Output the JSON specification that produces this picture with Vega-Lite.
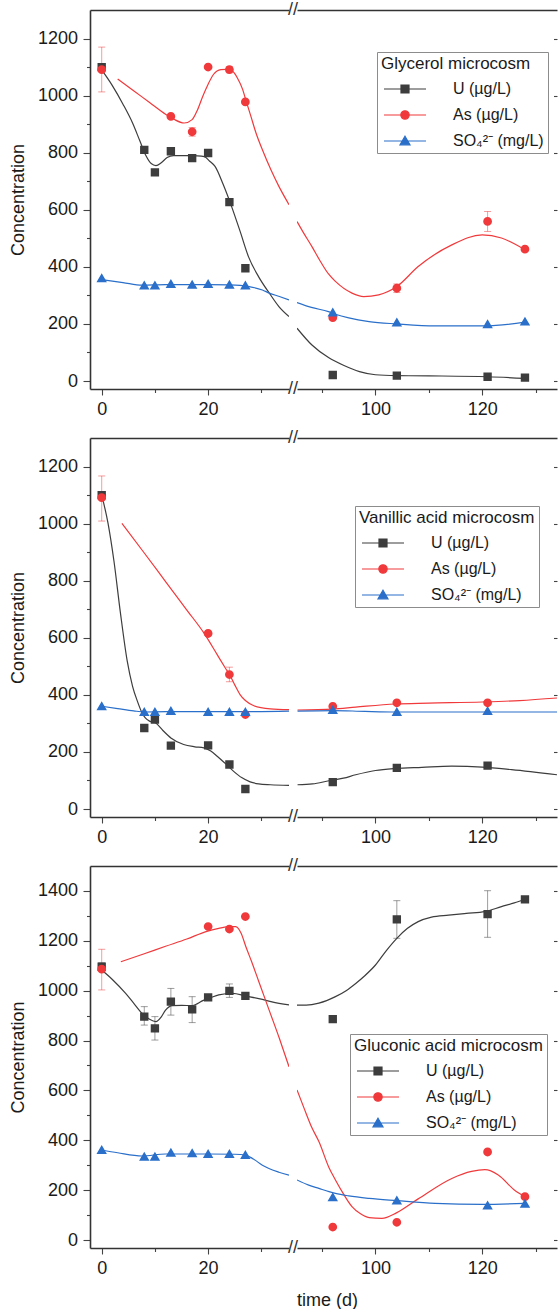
{
  "$schema": "https://vega.github.io/schema/vega-lite/v6.json",
  "background": "white",
  "padding": {"left": 9, "top": 1, "right": 0, "bottom": 0},
  "columns": 2,
  "spacing": {"row": 49, "column": 8},
  "bounds": "flush",
  "resolve": {"scale": {"color": "independent", "shape": "independent", "stroke": "independent"}},
  "config": {
    "font": "Liberation Sans",
    "view": {"stroke": null},
    "axis": {
      "grid": false,
      "labelFont": "Liberation Sans",
      "labelFontSize": 18,
      "labelColor": "#1a1a1a",
      "labelPadding": 5,
      "titleFont": "Liberation Sans",
      "titleFontSize": 18,
      "titleFontWeight": "normal",
      "titleColor": "#1a1a1a",
      "domainColor": "#333333",
      "domainWidth": 1.6,
      "tickColor": "#444444",
      "tickWidth": 1.1,
      "format": "d"
    },
    "legend": {
      "labelFont": "Liberation Sans",
      "titleFont": "Liberation Sans",
      "titleLimit": 400,
      "labelLimit": 300,
      "strokeColor": "#8c8c8c",
      "fillColor": "#ffffff",
      "padding": 4,
      "titleFontSize": 17,
      "titleFontWeight": "normal",
      "titleColor": "#1a1a1a",
      "titlePadding": 8,
      "labelFontSize": 16,
      "labelColor": "#1a1a1a",
      "rowPadding": 10,
      "symbolSize": 64,
      "symbolOffset": 16,
      "labelOffset": 40,
      "symbolOpacity": 1,
      "symbolStrokeWidth": 1.2
    }
  },
  "datasets": {
    "glyPts": [
      {"series": "U", "t": 0, "value": 1100}, {"series": "U", "t": 8, "value": 810}, {"series": "U", "t": 10, "value": 731},
      {"series": "U", "t": 13, "value": 805}, {"series": "U", "t": 17, "value": 781}, {"series": "U", "t": 20, "value": 799},
      {"series": "U", "t": 24, "value": 627}, {"series": "U", "t": 27, "value": 395}, {"series": "U", "t": 92, "value": 21},
      {"series": "U", "t": 104, "value": 19}, {"series": "U", "t": 121, "value": 15}, {"series": "U", "t": 128, "value": 12},
      {"series": "As", "t": 0, "value": 1091, "lo": 1013, "hi": 1170}, {"series": "As", "t": 13, "value": 927},
      {"series": "As", "t": 17, "value": 873, "lo": 858, "hi": 888}, {"series": "As", "t": 20, "value": 1100},
      {"series": "As", "t": 24, "value": 1091, "lo": 1080, "hi": 1102}, {"series": "As", "t": 27, "value": 978},
      {"series": "As", "t": 92, "value": 222}, {"series": "As", "t": 104, "value": 325, "lo": 310, "hi": 340},
      {"series": "As", "t": 121, "value": 559, "lo": 524, "hi": 594}, {"series": "As", "t": 128, "value": 462},
      {"series": "SO4", "t": 0, "value": 360}, {"series": "SO4", "t": 8, "value": 335}, {"series": "SO4", "t": 10, "value": 335},
      {"series": "SO4", "t": 13, "value": 340}, {"series": "SO4", "t": 17, "value": 337}, {"series": "SO4", "t": 20, "value": 340},
      {"series": "SO4", "t": 24, "value": 337}, {"series": "SO4", "t": 27, "value": 335}, {"series": "SO4", "t": 92, "value": 240},
      {"series": "SO4", "t": 104, "value": 205}, {"series": "SO4", "t": 121, "value": 199}, {"series": "SO4", "t": 128, "value": 208}
    ],
    "glyFit": [
      {"seg": "L", "series": "U", "t": 0, "value": 1090}, {"seg": "L", "series": "U", "t": 2, "value": 1035},
      {"seg": "L", "series": "U", "t": 4, "value": 970}, {"seg": "L", "series": "U", "t": 5.8, "value": 904},
      {"seg": "L", "series": "U", "t": 7.2, "value": 840}, {"seg": "L", "series": "U", "t": 8.3, "value": 790},
      {"seg": "L", "series": "U", "t": 9.3, "value": 762}, {"seg": "L", "series": "U", "t": 10.2, "value": 755},
      {"seg": "L", "series": "U", "t": 11.2, "value": 765}, {"seg": "L", "series": "U", "t": 12.3, "value": 783},
      {"seg": "L", "series": "U", "t": 13.5, "value": 790}, {"seg": "L", "series": "U", "t": 16, "value": 790},
      {"seg": "L", "series": "U", "t": 18, "value": 789}, {"seg": "L", "series": "U", "t": 19.3, "value": 786},
      {"seg": "L", "series": "U", "t": 20.3, "value": 770}, {"seg": "L", "series": "U", "t": 21.3, "value": 752},
      {"seg": "L", "series": "U", "t": 22.8, "value": 690}, {"seg": "L", "series": "U", "t": 24.4, "value": 612},
      {"seg": "L", "series": "U", "t": 26, "value": 525}, {"seg": "L", "series": "U", "t": 27.6, "value": 435},
      {"seg": "L", "series": "U", "t": 29.5, "value": 365}, {"seg": "L", "series": "U", "t": 31.5, "value": 308},
      {"seg": "L", "series": "U", "t": 33.3, "value": 261}, {"seg": "L", "series": "U", "t": 35.2, "value": 226},
      {"seg": "R", "series": "U", "t": 85.3, "value": 185}, {"seg": "R", "series": "U", "t": 88.1, "value": 126},
      {"seg": "R", "series": "U", "t": 91.2, "value": 82}, {"seg": "R", "series": "U", "t": 94, "value": 55},
      {"seg": "R", "series": "U", "t": 97, "value": 33}, {"seg": "R", "series": "U", "t": 100, "value": 22},
      {"seg": "R", "series": "U", "t": 104, "value": 19}, {"seg": "R", "series": "U", "t": 110, "value": 18},
      {"seg": "R", "series": "U", "t": 121, "value": 15}, {"seg": "R", "series": "U", "t": 128, "value": 9},
      {"seg": "L", "series": "As", "t": 3, "value": 1058}, {"seg": "L", "series": "As", "t": 6, "value": 1017},
      {"seg": "L", "series": "As", "t": 9, "value": 976}, {"seg": "L", "series": "As", "t": 12, "value": 935},
      {"seg": "L", "series": "As", "t": 13.5, "value": 918}, {"seg": "L", "series": "As", "t": 15.5, "value": 904},
      {"seg": "L", "series": "As", "t": 17, "value": 916}, {"seg": "L", "series": "As", "t": 18, "value": 950},
      {"seg": "L", "series": "As", "t": 19, "value": 998}, {"seg": "L", "series": "As", "t": 20, "value": 1040},
      {"seg": "L", "series": "As", "t": 21, "value": 1074}, {"seg": "L", "series": "As", "t": 22.4, "value": 1091},
      {"seg": "L", "series": "As", "t": 23.5, "value": 1092}, {"seg": "L", "series": "As", "t": 24.6, "value": 1085},
      {"seg": "L", "series": "As", "t": 25.5, "value": 1062}, {"seg": "L", "series": "As", "t": 26.5, "value": 1021},
      {"seg": "L", "series": "As", "t": 27, "value": 990}, {"seg": "L", "series": "As", "t": 28, "value": 930},
      {"seg": "L", "series": "As", "t": 29, "value": 869}, {"seg": "L", "series": "As", "t": 30.2, "value": 810},
      {"seg": "L", "series": "As", "t": 31.8, "value": 740}, {"seg": "L", "series": "As", "t": 33.3, "value": 682},
      {"seg": "L", "series": "As", "t": 35.2, "value": 618},
      {"seg": "R", "series": "As", "t": 85.3, "value": 559}, {"seg": "R", "series": "As", "t": 86.5, "value": 520},
      {"seg": "R", "series": "As", "t": 88.1, "value": 471}, {"seg": "R", "series": "As", "t": 89.5, "value": 425},
      {"seg": "R", "series": "As", "t": 91.2, "value": 375}, {"seg": "R", "series": "As", "t": 92.5, "value": 349},
      {"seg": "R", "series": "As", "t": 95.6, "value": 308}, {"seg": "R", "series": "As", "t": 97.8, "value": 296},
      {"seg": "R", "series": "As", "t": 100.6, "value": 302}, {"seg": "R", "series": "As", "t": 104, "value": 331},
      {"seg": "R", "series": "As", "t": 108, "value": 401}, {"seg": "R", "series": "As", "t": 114.3, "value": 477},
      {"seg": "R", "series": "As", "t": 120, "value": 512}, {"seg": "R", "series": "As", "t": 123.6, "value": 501},
      {"seg": "R", "series": "As", "t": 128, "value": 460},
      {"seg": "L", "series": "SO4", "t": 0, "value": 355}, {"seg": "L", "series": "SO4", "t": 4, "value": 345},
      {"seg": "L", "series": "SO4", "t": 7.6, "value": 336}, {"seg": "L", "series": "SO4", "t": 12, "value": 338},
      {"seg": "L", "series": "SO4", "t": 20, "value": 338}, {"seg": "L", "series": "SO4", "t": 24, "value": 337},
      {"seg": "L", "series": "SO4", "t": 26, "value": 335}, {"seg": "L", "series": "SO4", "t": 27.7, "value": 331},
      {"seg": "L", "series": "SO4", "t": 30.2, "value": 319}, {"seg": "L", "series": "SO4", "t": 31.5, "value": 308},
      {"seg": "L", "series": "SO4", "t": 33.4, "value": 296}, {"seg": "L", "series": "SO4", "t": 35.2, "value": 284},
      {"seg": "R", "series": "SO4", "t": 85.3, "value": 275}, {"seg": "R", "series": "SO4", "t": 88, "value": 258},
      {"seg": "R", "series": "SO4", "t": 91.2, "value": 243}, {"seg": "R", "series": "SO4", "t": 92.5, "value": 234},
      {"seg": "R", "series": "SO4", "t": 95, "value": 221}, {"seg": "R", "series": "SO4", "t": 98.8, "value": 208},
      {"seg": "R", "series": "SO4", "t": 104, "value": 200}, {"seg": "R", "series": "SO4", "t": 111.2, "value": 193},
      {"seg": "R", "series": "SO4", "t": 120.5, "value": 193}, {"seg": "R", "series": "SO4", "t": 128, "value": 206}
    ],
    "vanPts": [
      {"series": "U", "t": 0, "value": 1100}, {"series": "U", "t": 8, "value": 284}, {"series": "U", "t": 10, "value": 313},
      {"series": "U", "t": 13, "value": 222}, {"series": "U", "t": 20, "value": 223}, {"series": "U", "t": 24, "value": 156},
      {"series": "U", "t": 27, "value": 70}, {"series": "U", "t": 92, "value": 94}, {"series": "U", "t": 104, "value": 144},
      {"series": "U", "t": 121, "value": 152},
      {"series": "As", "t": 0, "value": 1091, "lo": 1009, "hi": 1167}, {"series": "As", "t": 20, "value": 615},
      {"series": "As", "t": 24, "value": 471, "lo": 446, "hi": 497}, {"series": "As", "t": 27, "value": 331},
      {"series": "As", "t": 92, "value": 360}, {"series": "As", "t": 104, "value": 372}, {"series": "As", "t": 121, "value": 372},
      {"series": "SO4", "t": 0, "value": 360}, {"series": "SO4", "t": 8, "value": 340}, {"series": "SO4", "t": 10, "value": 340},
      {"series": "SO4", "t": 13, "value": 343}, {"series": "SO4", "t": 20, "value": 340}, {"series": "SO4", "t": 24, "value": 340},
      {"series": "SO4", "t": 27, "value": 340}, {"series": "SO4", "t": 92, "value": 347}, {"series": "SO4", "t": 104, "value": 340},
      {"series": "SO4", "t": 121, "value": 343}
    ],
    "vanFit": [
      {"seg": "L", "series": "U", "t": 0, "value": 1100}, {"seg": "L", "series": "U", "t": 1.2, "value": 1000},
      {"seg": "L", "series": "U", "t": 2.3, "value": 869}, {"seg": "L", "series": "U", "t": 3.5, "value": 690},
      {"seg": "L", "series": "U", "t": 4.8, "value": 518}, {"seg": "L", "series": "U", "t": 5.8, "value": 430},
      {"seg": "L", "series": "U", "t": 6.7, "value": 378}, {"seg": "L", "series": "U", "t": 7.5, "value": 340},
      {"seg": "L", "series": "U", "t": 8.2, "value": 319}, {"seg": "L", "series": "U", "t": 9, "value": 308},
      {"seg": "L", "series": "U", "t": 10.1, "value": 302}, {"seg": "L", "series": "U", "t": 11.5, "value": 275},
      {"seg": "L", "series": "U", "t": 13, "value": 249}, {"seg": "L", "series": "U", "t": 15.4, "value": 226},
      {"seg": "L", "series": "U", "t": 17.5, "value": 218}, {"seg": "L", "series": "U", "t": 19.2, "value": 214},
      {"seg": "L", "series": "U", "t": 20.5, "value": 203}, {"seg": "L", "series": "U", "t": 21.7, "value": 185},
      {"seg": "L", "series": "U", "t": 23.2, "value": 160}, {"seg": "L", "series": "U", "t": 24.8, "value": 132},
      {"seg": "L", "series": "U", "t": 26.3, "value": 110}, {"seg": "L", "series": "U", "t": 27.9, "value": 95},
      {"seg": "L", "series": "U", "t": 29.5, "value": 88}, {"seg": "L", "series": "U", "t": 31.7, "value": 85},
      {"seg": "L", "series": "U", "t": 35.2, "value": 83},
      {"seg": "R", "series": "U", "t": 85.4, "value": 85}, {"seg": "R", "series": "U", "t": 88.2, "value": 88},
      {"seg": "R", "series": "U", "t": 91.3, "value": 99}, {"seg": "R", "series": "U", "t": 94, "value": 108},
      {"seg": "R", "series": "U", "t": 96.3, "value": 120}, {"seg": "R", "series": "U", "t": 100, "value": 135},
      {"seg": "R", "series": "U", "t": 103.7, "value": 142}, {"seg": "R", "series": "U", "t": 108.7, "value": 146},
      {"seg": "R", "series": "U", "t": 114.3, "value": 150}, {"seg": "R", "series": "U", "t": 120, "value": 147},
      {"seg": "R", "series": "U", "t": 125.5, "value": 138}, {"seg": "R", "series": "U", "t": 134, "value": 120},
      {"seg": "L", "series": "As", "t": 3.8, "value": 1001}, {"seg": "L", "series": "As", "t": 8, "value": 897},
      {"seg": "L", "series": "As", "t": 12, "value": 797}, {"seg": "L", "series": "As", "t": 16, "value": 697},
      {"seg": "L", "series": "As", "t": 19.2, "value": 617}, {"seg": "L", "series": "As", "t": 21.7, "value": 541},
      {"seg": "L", "series": "As", "t": 23.2, "value": 495}, {"seg": "L", "series": "As", "t": 24.2, "value": 465},
      {"seg": "L", "series": "As", "t": 25, "value": 435}, {"seg": "L", "series": "As", "t": 26, "value": 401},
      {"seg": "L", "series": "As", "t": 27, "value": 380}, {"seg": "L", "series": "As", "t": 28.6, "value": 362},
      {"seg": "L", "series": "As", "t": 31.7, "value": 351}, {"seg": "L", "series": "As", "t": 35.2, "value": 348},
      {"seg": "R", "series": "As", "t": 85.4, "value": 347}, {"seg": "R", "series": "As", "t": 92, "value": 350},
      {"seg": "R", "series": "As", "t": 96.3, "value": 357}, {"seg": "R", "series": "As", "t": 103.7, "value": 368},
      {"seg": "R", "series": "As", "t": 110, "value": 371}, {"seg": "R", "series": "As", "t": 120, "value": 375},
      {"seg": "R", "series": "As", "t": 127, "value": 380}, {"seg": "R", "series": "As", "t": 134, "value": 389},
      {"seg": "L", "series": "SO4", "t": 0, "value": 360}, {"seg": "L", "series": "SO4", "t": 3, "value": 352},
      {"seg": "L", "series": "SO4", "t": 6, "value": 344}, {"seg": "L", "series": "SO4", "t": 8, "value": 340},
      {"seg": "L", "series": "SO4", "t": 12, "value": 341}, {"seg": "L", "series": "SO4", "t": 20, "value": 341},
      {"seg": "L", "series": "SO4", "t": 27, "value": 341}, {"seg": "L", "series": "SO4", "t": 35.2, "value": 343},
      {"seg": "R", "series": "SO4", "t": 85.4, "value": 343}, {"seg": "R", "series": "SO4", "t": 92, "value": 345},
      {"seg": "R", "series": "SO4", "t": 98, "value": 342}, {"seg": "R", "series": "SO4", "t": 104, "value": 340},
      {"seg": "R", "series": "SO4", "t": 121, "value": 340}, {"seg": "R", "series": "SO4", "t": 134, "value": 340}
    ],
    "gluPts": [
      {"series": "U", "t": 0, "value": 1096, "lo": 1080, "hi": 1112}, {"series": "U", "t": 8, "value": 896, "lo": 862, "hi": 936},
      {"series": "U", "t": 10, "value": 849, "lo": 802, "hi": 896}, {"series": "U", "t": 13, "value": 956, "lo": 902, "hi": 1009},
      {"series": "U", "t": 17, "value": 925, "lo": 872, "hi": 976}, {"series": "U", "t": 20, "value": 973},
      {"series": "U", "t": 24, "value": 999, "lo": 973, "hi": 1027}, {"series": "U", "t": 27, "value": 979},
      {"series": "U", "t": 92, "value": 886}, {"series": "U", "t": 104, "value": 1286, "lo": 1210, "hi": 1361},
      {"series": "U", "t": 121, "value": 1307, "lo": 1214, "hi": 1401}, {"series": "U", "t": 128, "value": 1366},
      {"series": "As", "t": 0, "value": 1086, "lo": 1003, "hi": 1166}, {"series": "As", "t": 20, "value": 1257},
      {"series": "As", "t": 24, "value": 1247}, {"series": "As", "t": 27, "value": 1297},
      {"series": "As", "t": 92, "value": 52}, {"series": "As", "t": 104, "value": 71},
      {"series": "As", "t": 121, "value": 353}, {"series": "As", "t": 128, "value": 174},
      {"series": "SO4", "t": 0, "value": 361}, {"series": "SO4", "t": 8, "value": 334}, {"series": "SO4", "t": 10, "value": 334},
      {"series": "SO4", "t": 13, "value": 350}, {"series": "SO4", "t": 17, "value": 348}, {"series": "SO4", "t": 20, "value": 345},
      {"series": "SO4", "t": 24, "value": 345}, {"series": "SO4", "t": 27, "value": 341}, {"series": "SO4", "t": 92, "value": 171},
      {"series": "SO4", "t": 104, "value": 158}, {"series": "SO4", "t": 121, "value": 138}, {"series": "SO4", "t": 128, "value": 145}
    ],
    "gluFit": [
      {"seg": "L", "series": "U", "t": 0, "value": 1083}, {"seg": "L", "series": "U", "t": 2, "value": 1045},
      {"seg": "L", "series": "U", "t": 4.5, "value": 989}, {"seg": "L", "series": "U", "t": 6, "value": 950},
      {"seg": "L", "series": "U", "t": 7.6, "value": 909}, {"seg": "L", "series": "U", "t": 9, "value": 885},
      {"seg": "L", "series": "U", "t": 10.2, "value": 876}, {"seg": "L", "series": "U", "t": 11.2, "value": 895},
      {"seg": "L", "series": "U", "t": 12, "value": 922}, {"seg": "L", "series": "U", "t": 13.3, "value": 940},
      {"seg": "L", "series": "U", "t": 15, "value": 941}, {"seg": "L", "series": "U", "t": 17, "value": 940},
      {"seg": "L", "series": "U", "t": 18, "value": 948}, {"seg": "L", "series": "U", "t": 19, "value": 960},
      {"seg": "L", "series": "U", "t": 20.5, "value": 972}, {"seg": "L", "series": "U", "t": 22, "value": 983},
      {"seg": "L", "series": "U", "t": 24.6, "value": 989}, {"seg": "L", "series": "U", "t": 27, "value": 979},
      {"seg": "L", "series": "U", "t": 30.2, "value": 965}, {"seg": "L", "series": "U", "t": 32, "value": 955},
      {"seg": "L", "series": "U", "t": 35.2, "value": 943},
      {"seg": "R", "series": "U", "t": 85.3, "value": 942}, {"seg": "R", "series": "U", "t": 87, "value": 942},
      {"seg": "R", "series": "U", "t": 89.4, "value": 950}, {"seg": "R", "series": "U", "t": 92.5, "value": 976},
      {"seg": "R", "series": "U", "t": 94.5, "value": 1000}, {"seg": "R", "series": "U", "t": 96.3, "value": 1029},
      {"seg": "R", "series": "U", "t": 98, "value": 1060}, {"seg": "R", "series": "U", "t": 100, "value": 1103},
      {"seg": "R", "series": "U", "t": 102, "value": 1160}, {"seg": "R", "series": "U", "t": 104, "value": 1210},
      {"seg": "R", "series": "U", "t": 106, "value": 1250}, {"seg": "R", "series": "U", "t": 108, "value": 1277},
      {"seg": "R", "series": "U", "t": 110.5, "value": 1295}, {"seg": "R", "series": "U", "t": 113.7, "value": 1303},
      {"seg": "R", "series": "U", "t": 117, "value": 1310}, {"seg": "R", "series": "U", "t": 120.5, "value": 1317},
      {"seg": "R", "series": "U", "t": 123.6, "value": 1337}, {"seg": "R", "series": "U", "t": 126, "value": 1352},
      {"seg": "R", "series": "U", "t": 128, "value": 1366},
      {"seg": "L", "series": "As", "t": 3.6, "value": 1116}, {"seg": "L", "series": "As", "t": 8, "value": 1148},
      {"seg": "L", "series": "As", "t": 12, "value": 1178}, {"seg": "L", "series": "As", "t": 16, "value": 1207},
      {"seg": "L", "series": "As", "t": 19.6, "value": 1237}, {"seg": "L", "series": "As", "t": 22, "value": 1250},
      {"seg": "L", "series": "As", "t": 24, "value": 1257}, {"seg": "L", "series": "As", "t": 25.2, "value": 1257},
      {"seg": "L", "series": "As", "t": 26.2, "value": 1230}, {"seg": "L", "series": "As", "t": 27.1, "value": 1176},
      {"seg": "L", "series": "As", "t": 28.2, "value": 1115}, {"seg": "L", "series": "As", "t": 29.5, "value": 1038},
      {"seg": "L", "series": "As", "t": 31.45, "value": 923}, {"seg": "L", "series": "As", "t": 33.4, "value": 808},
      {"seg": "L", "series": "As", "t": 35.2, "value": 695},
      {"seg": "R", "series": "As", "t": 85.3, "value": 602}, {"seg": "R", "series": "As", "t": 86.6, "value": 530},
      {"seg": "R", "series": "As", "t": 88.1, "value": 450}, {"seg": "R", "series": "As", "t": 89.4, "value": 395},
      {"seg": "R", "series": "As", "t": 91.3, "value": 290}, {"seg": "R", "series": "As", "t": 92.5, "value": 241},
      {"seg": "R", "series": "As", "t": 94, "value": 185}, {"seg": "R", "series": "As", "t": 95.6, "value": 134},
      {"seg": "R", "series": "As", "t": 97.2, "value": 105}, {"seg": "R", "series": "As", "t": 98.8, "value": 90},
      {"seg": "R", "series": "As", "t": 101.2, "value": 87}, {"seg": "R", "series": "As", "t": 104, "value": 110},
      {"seg": "R", "series": "As", "t": 108, "value": 165}, {"seg": "R", "series": "As", "t": 114.3, "value": 247},
      {"seg": "R", "series": "As", "t": 118, "value": 275}, {"seg": "R", "series": "As", "t": 120.5, "value": 282},
      {"seg": "R", "series": "As", "t": 123, "value": 261}, {"seg": "R", "series": "As", "t": 126, "value": 201},
      {"seg": "R", "series": "As", "t": 128, "value": 174},
      {"seg": "L", "series": "SO4", "t": 0, "value": 361}, {"seg": "L", "series": "SO4", "t": 3, "value": 350},
      {"seg": "L", "series": "SO4", "t": 7.6, "value": 337}, {"seg": "L", "series": "SO4", "t": 12, "value": 345},
      {"seg": "L", "series": "SO4", "t": 20, "value": 345}, {"seg": "L", "series": "SO4", "t": 25, "value": 344},
      {"seg": "L", "series": "SO4", "t": 27, "value": 341}, {"seg": "L", "series": "SO4", "t": 28.5, "value": 325},
      {"seg": "L", "series": "SO4", "t": 30.2, "value": 300}, {"seg": "L", "series": "SO4", "t": 33.3, "value": 272},
      {"seg": "L", "series": "SO4", "t": 35.2, "value": 260},
      {"seg": "R", "series": "SO4", "t": 85.3, "value": 241}, {"seg": "R", "series": "SO4", "t": 87.5, "value": 220},
      {"seg": "R", "series": "SO4", "t": 89.4, "value": 207}, {"seg": "R", "series": "SO4", "t": 91.3, "value": 194},
      {"seg": "R", "series": "SO4", "t": 92.5, "value": 187}, {"seg": "R", "series": "SO4", "t": 95, "value": 177},
      {"seg": "R", "series": "SO4", "t": 98.8, "value": 167}, {"seg": "R", "series": "SO4", "t": 104, "value": 158},
      {"seg": "R", "series": "SO4", "t": 111.2, "value": 147}, {"seg": "R", "series": "SO4", "t": 120, "value": 143},
      {"seg": "R", "series": "SO4", "t": 128, "value": 147}
    ]
  },
  "concat": [
    {
      "width": 199, "height": 379,
      "resolve": {"axis": {"x": "independent", "y": "independent"}},
      "layer": [
        {
          "data": {"name": "glyFit"},
          "transform": [{"filter": "datum.seg === 'L'"}],
          "mark": {"type": "line", "interpolate": "monotone", "strokeWidth": 1.2, "clip": true},
          "encoding": {
            "x": {"field": "t", "type": "quantitative", "scale": {"domain": [-2.2, 35.2], "nice": false, "zero": false},
              "axis": {"orient": "bottom", "title": null, "values": [0, 10, 20, 30], "labelExpr": "datum.value % 20 === 0 ? datum.label : ''",
                "tickSize": {"condition": {"test": "datum.value % 20 === 0", "value": 6}, "value": 3.5}}},
            "y": {"field": "value", "type": "quantitative", "scale": {"domain": [-28, 1300], "nice": false, "zero": false},
              "axis": {"orient": "left", "title": "Concentration", "titlePadding": 10, "labelPadding": 5.5,
                "values": [0, 100, 200, 300, 400, 500, 600, 700, 800, 900, 1000, 1100, 1200],
                "labelExpr": "datum.value % 200 === 0 ? datum.label : ''",
                "tickSize": {"condition": {"test": "datum.value % 200 === 0", "value": 7}, "value": 3.5}}},
            "color": {"field": "series", "type": "nominal", "scale": {"domain": ["U", "As", "SO4"], "range": ["#3d3d3d", "#f0393b", "#2a6fc9"]}, "legend": null}
          }
        },
        {
          "data": {"name": "glyPts"},
          "transform": [{"filter": "datum.t < 50 && isValid(datum.lo)"}],
          "mark": {"type": "errorbar", "ticks": {"size": 7}, "thickness": 1, "opacity": 0.5},
          "encoding": {
            "x": {"field": "t", "type": "quantitative", "axis": null},
            "y": {"field": "lo", "type": "quantitative", "axis": null},
            "y2": {"field": "hi"},
            "color": {"field": "series", "type": "nominal", "legend": null}
          }
        },
        {
          "data": {"name": "glyPts"},
          "transform": [{"filter": "datum.t < 50"}],
          "mark": {"type": "point", "filled": true, "size": 70, "opacity": 1, "strokeWidth": 0},
          "encoding": {
            "x": {"field": "t", "type": "quantitative", "axis": {"orient": "top", "title": null, "ticks": false, "labels": false}},
            "y": {"field": "value", "type": "quantitative", "axis": null},
            "color": {"field": "series", "type": "nominal", "legend": null},
            "shape": {"field": "series", "type": "nominal", "legend": null,
              "scale": {"domain": ["U", "As", "SO4"], "range": ["M-5.25,0H5.25M-1,-1H1V1H-1Z", "M-5.25,0H5.25M1.05,0A1.05 1.05 0 1 1 -1.05,0A1.05 1.05 0 1 1 1.05,0Z", "M-5.25,0H5.25M0,-1.2L1.25,0.95H-1.25Z"]}}
          }
        },
        {
          "data": {"values": [{"t": 35.95, "value": -28}, {"t": 35.95, "value": 1300}]},
          "mark": {"type": "text", "text": "//", "fontSize": 18, "color": "#333333", "align": "center", "baseline": "middle"},
          "encoding": {
            "x": {"field": "t", "type": "quantitative", "axis": null},
            "y": {"field": "value", "type": "quantitative", "axis": null}
          }
        }
      ]
    },
    {
      "width": 260, "height": 379,
      "resolve": {"axis": {"x": "independent", "y": "independent"}},
      "layer": [
        {
          "data": {"name": "glyFit"},
          "transform": [{"filter": "datum.seg === 'R'"}],
          "mark": {"type": "line", "interpolate": "monotone", "strokeWidth": 1.2, "clip": true},
          "encoding": {
            "x": {"field": "t", "type": "quantitative", "scale": {"domain": [85.3, 134], "nice": false, "zero": false},
              "axis": {"orient": "bottom", "title": null, "values": [90, 100, 110, 120, 130], "labelExpr": "datum.value % 20 === 0 ? datum.label : ''",
                "tickSize": {"condition": {"test": "datum.value % 20 === 0", "value": 6}, "value": 3.5}}},
            "y": {"field": "value", "type": "quantitative", "scale": {"domain": [-28, 1300], "nice": false, "zero": false},
              "axis": {"orient": "right", "title": null, "labels": false, "domain": false, "tickSize": -3.5,
                "values": [0, 200, 400, 600, 800, 1000, 1200]}},
            "color": {"field": "series", "type": "nominal", "scale": {"domain": ["U", "As", "SO4"], "range": ["#3d3d3d", "#f0393b", "#2a6fc9"]}}
          }
        },
        {
          "data": {"name": "glyPts"},
          "transform": [{"filter": "datum.t > 50 && isValid(datum.lo)"}],
          "mark": {"type": "errorbar", "ticks": {"size": 7}, "thickness": 1, "opacity": 0.5},
          "encoding": {
            "x": {"field": "t", "type": "quantitative", "axis": null},
            "y": {"field": "lo", "type": "quantitative", "axis": null},
            "y2": {"field": "hi"},
            "color": {"field": "series", "type": "nominal"}
          }
        },
        {
          "data": {"name": "glyPts"},
          "transform": [{"filter": "datum.t > 50"}],
          "mark": {"type": "point", "filled": true, "size": 70, "opacity": 1, "strokeWidth": 0},
          "encoding": {
            "x": {"field": "t", "type": "quantitative", "axis": {"orient": "top", "title": null, "ticks": false, "labels": false}},
            "y": {"field": "value", "type": "quantitative", "axis": null},
            "color": {"field": "series", "type": "nominal",
              "legend": {"title": "Glycerol microcosm", "orient": "none", "legendX": 80, "legendY": 42,
                "labelExpr": "datum.value === 'U' ? 'U (µg/L)' : datum.value === 'As' ? 'As (µg/L)' : 'SO₄²⁻ (mg/L)'"}},
            "stroke": {"field": "series", "type": "nominal", "scale": {"domain": ["U", "As", "SO4"], "range": ["#3d3d3d", "#f0393b", "#2a6fc9"]}},
            "shape": {"field": "series", "type": "nominal",
              "scale": {"domain": ["U", "As", "SO4"], "range": ["M-5.25,0H5.25M-1,-1H1V1H-1Z", "M-5.25,0H5.25M1.05,0A1.05 1.05 0 1 1 -1.05,0A1.05 1.05 0 1 1 1.05,0Z", "M-5.25,0H5.25M0,-1.2L1.25,0.95H-1.25Z"]}}
          }
        }
      ]
    },
    {
      "width": 199, "height": 379,
      "resolve": {"axis": {"x": "independent", "y": "independent"}},
      "layer": [
        {
          "data": {"name": "vanFit"},
          "transform": [{"filter": "datum.seg === 'L'"}],
          "mark": {"type": "line", "interpolate": "monotone", "strokeWidth": 1.2, "clip": true},
          "encoding": {
            "x": {"field": "t", "type": "quantitative", "scale": {"domain": [-2.2, 35.2], "nice": false, "zero": false},
              "axis": {"orient": "bottom", "title": null, "values": [0, 10, 20, 30], "labelExpr": "datum.value % 20 === 0 ? datum.label : ''",
                "tickSize": {"condition": {"test": "datum.value % 20 === 0", "value": 6}, "value": 3.5}}},
            "y": {"field": "value", "type": "quantitative", "scale": {"domain": [-28, 1300], "nice": false, "zero": false},
              "axis": {"orient": "left", "title": "Concentration", "titlePadding": 10, "labelPadding": 5.5,
                "values": [0, 100, 200, 300, 400, 500, 600, 700, 800, 900, 1000, 1100, 1200],
                "labelExpr": "datum.value % 200 === 0 ? datum.label : ''",
                "tickSize": {"condition": {"test": "datum.value % 200 === 0", "value": 7}, "value": 3.5}}},
            "color": {"field": "series", "type": "nominal", "scale": {"domain": ["U", "As", "SO4"], "range": ["#3d3d3d", "#f0393b", "#2a6fc9"]}, "legend": null}
          }
        },
        {
          "data": {"name": "vanPts"},
          "transform": [{"filter": "datum.t < 50 && isValid(datum.lo)"}],
          "mark": {"type": "errorbar", "ticks": {"size": 7}, "thickness": 1, "opacity": 0.5},
          "encoding": {
            "x": {"field": "t", "type": "quantitative", "axis": null},
            "y": {"field": "lo", "type": "quantitative", "axis": null},
            "y2": {"field": "hi"},
            "color": {"field": "series", "type": "nominal", "legend": null}
          }
        },
        {
          "data": {"name": "vanPts"},
          "transform": [{"filter": "datum.t < 50"}],
          "mark": {"type": "point", "filled": true, "size": 70, "opacity": 1, "strokeWidth": 0},
          "encoding": {
            "x": {"field": "t", "type": "quantitative", "axis": {"orient": "top", "title": null, "ticks": false, "labels": false}},
            "y": {"field": "value", "type": "quantitative", "axis": null},
            "color": {"field": "series", "type": "nominal", "legend": null},
            "shape": {"field": "series", "type": "nominal", "legend": null,
              "scale": {"domain": ["U", "As", "SO4"], "range": ["M-5.25,0H5.25M-1,-1H1V1H-1Z", "M-5.25,0H5.25M1.05,0A1.05 1.05 0 1 1 -1.05,0A1.05 1.05 0 1 1 1.05,0Z", "M-5.25,0H5.25M0,-1.2L1.25,0.95H-1.25Z"]}}
          }
        },
        {
          "data": {"values": [{"t": 35.95, "value": -28}, {"t": 35.95, "value": 1300}]},
          "mark": {"type": "text", "text": "//", "fontSize": 18, "color": "#333333", "align": "center", "baseline": "middle"},
          "encoding": {
            "x": {"field": "t", "type": "quantitative", "axis": null},
            "y": {"field": "value", "type": "quantitative", "axis": null}
          }
        }
      ]
    },
    {
      "width": 260, "height": 379,
      "resolve": {"axis": {"x": "independent", "y": "independent"}},
      "layer": [
        {
          "data": {"name": "vanFit"},
          "transform": [{"filter": "datum.seg === 'R'"}],
          "mark": {"type": "line", "interpolate": "monotone", "strokeWidth": 1.2, "clip": true},
          "encoding": {
            "x": {"field": "t", "type": "quantitative", "scale": {"domain": [85.3, 134], "nice": false, "zero": false},
              "axis": {"orient": "bottom", "title": null, "values": [90, 100, 110, 120, 130], "labelExpr": "datum.value % 20 === 0 ? datum.label : ''",
                "tickSize": {"condition": {"test": "datum.value % 20 === 0", "value": 6}, "value": 3.5}}},
            "y": {"field": "value", "type": "quantitative", "scale": {"domain": [-28, 1300], "nice": false, "zero": false},
              "axis": {"orient": "right", "title": null, "labels": false, "domain": false, "tickSize": -3.5,
                "values": [0, 200, 400, 600, 800, 1000, 1200]}},
            "color": {"field": "series", "type": "nominal", "scale": {"domain": ["U", "As", "SO4"], "range": ["#3d3d3d", "#f0393b", "#2a6fc9"]}}
          }
        },
        {
          "data": {"name": "vanPts"},
          "transform": [{"filter": "datum.t > 50"}],
          "mark": {"type": "point", "filled": true, "size": 70, "opacity": 1, "strokeWidth": 0},
          "encoding": {
            "x": {"field": "t", "type": "quantitative", "axis": {"orient": "top", "title": null, "ticks": false, "labels": false}},
            "y": {"field": "value", "type": "quantitative", "axis": null},
            "color": {"field": "series", "type": "nominal",
              "legend": {"title": "Vanillic acid microcosm", "orient": "none", "legendX": 58, "legendY": 68,
                "labelExpr": "datum.value === 'U' ? 'U (µg/L)' : datum.value === 'As' ? 'As (µg/L)' : 'SO₄²⁻ (mg/L)'"}},
            "stroke": {"field": "series", "type": "nominal", "scale": {"domain": ["U", "As", "SO4"], "range": ["#3d3d3d", "#f0393b", "#2a6fc9"]}},
            "shape": {"field": "series", "type": "nominal",
              "scale": {"domain": ["U", "As", "SO4"], "range": ["M-5.25,0H5.25M-1,-1H1V1H-1Z", "M-5.25,0H5.25M1.05,0A1.05 1.05 0 1 1 -1.05,0A1.05 1.05 0 1 1 1.05,0Z", "M-5.25,0H5.25M0,-1.2L1.25,0.95H-1.25Z"]}}
          }
        }
      ]
    },
    {
      "width": 199, "height": 382,
      "resolve": {"axis": {"x": "independent", "y": "independent"}},
      "layer": [
        {
          "data": {"name": "gluFit"},
          "transform": [{"filter": "datum.seg === 'L'"}],
          "mark": {"type": "line", "interpolate": "monotone", "strokeWidth": 1.2, "clip": true},
          "encoding": {
            "x": {"field": "t", "type": "quantitative", "scale": {"domain": [-2.2, 35.2], "nice": false, "zero": false},
              "axis": {"orient": "bottom", "title": null, "values": [0, 10, 20, 30], "labelExpr": "datum.value % 20 === 0 ? datum.label : ''",
                "tickSize": {"condition": {"test": "datum.value % 20 === 0", "value": 6}, "value": 3.5}}},
            "y": {"field": "value", "type": "quantitative", "scale": {"domain": [-32, 1500], "nice": false, "zero": false},
              "axis": {"orient": "left", "title": "Concentration", "titlePadding": 10, "labelPadding": 5.5,
                "values": [0, 100, 200, 300, 400, 500, 600, 700, 800, 900, 1000, 1100, 1200, 1300, 1400],
                "labelExpr": "datum.value % 200 === 0 ? datum.label : ''",
                "tickSize": {"condition": {"test": "datum.value % 200 === 0", "value": 7}, "value": 3.5}}},
            "color": {"field": "series", "type": "nominal", "scale": {"domain": ["U", "As", "SO4"], "range": ["#3d3d3d", "#f0393b", "#2a6fc9"]}, "legend": null}
          }
        },
        {
          "data": {"name": "gluPts"},
          "transform": [{"filter": "datum.t < 50 && isValid(datum.lo)"}],
          "mark": {"type": "errorbar", "ticks": {"size": 7}, "thickness": 1, "opacity": 0.5},
          "encoding": {
            "x": {"field": "t", "type": "quantitative", "axis": null},
            "y": {"field": "lo", "type": "quantitative", "axis": null},
            "y2": {"field": "hi"},
            "color": {"field": "series", "type": "nominal", "legend": null}
          }
        },
        {
          "data": {"name": "gluPts"},
          "transform": [{"filter": "datum.t < 50"}],
          "mark": {"type": "point", "filled": true, "size": 70, "opacity": 1, "strokeWidth": 0},
          "encoding": {
            "x": {"field": "t", "type": "quantitative", "axis": {"orient": "top", "title": null, "ticks": false, "labels": false}},
            "y": {"field": "value", "type": "quantitative", "axis": null},
            "color": {"field": "series", "type": "nominal", "legend": null},
            "shape": {"field": "series", "type": "nominal", "legend": null,
              "scale": {"domain": ["U", "As", "SO4"], "range": ["M-5.25,0H5.25M-1,-1H1V1H-1Z", "M-5.25,0H5.25M1.05,0A1.05 1.05 0 1 1 -1.05,0A1.05 1.05 0 1 1 1.05,0Z", "M-5.25,0H5.25M0,-1.2L1.25,0.95H-1.25Z"]}}
          }
        },
        {
          "data": {"values": [{"t": 35.95, "value": -32}, {"t": 35.95, "value": 1500}]},
          "mark": {"type": "text", "text": "//", "fontSize": 18, "color": "#333333", "align": "center", "baseline": "middle"},
          "encoding": {
            "x": {"field": "t", "type": "quantitative", "axis": null},
            "y": {"field": "value", "type": "quantitative", "axis": null}
          }
        }
      ]
    },
    {
      "width": 260, "height": 382,
      "resolve": {"axis": {"x": "independent", "y": "independent"}},
      "layer": [
        {
          "data": {"name": "gluFit"},
          "transform": [{"filter": "datum.seg === 'R'"}],
          "mark": {"type": "line", "interpolate": "monotone", "strokeWidth": 1.2, "clip": true},
          "encoding": {
            "x": {"field": "t", "type": "quantitative", "scale": {"domain": [85.3, 134], "nice": false, "zero": false},
              "axis": {"orient": "bottom", "title": "time (d)", "titleX": 30, "titleAlign": "center", "titlePadding": 14,
                "values": [90, 100, 110, 120, 130], "labelExpr": "datum.value % 20 === 0 ? datum.label : ''",
                "tickSize": {"condition": {"test": "datum.value % 20 === 0", "value": 6}, "value": 3.5}}},
            "y": {"field": "value", "type": "quantitative", "scale": {"domain": [-32, 1500], "nice": false, "zero": false},
              "axis": {"orient": "right", "title": null, "labels": false, "domain": false, "tickSize": -3.5,
                "values": [0, 200, 400, 600, 800, 1000, 1200, 1400]}},
            "color": {"field": "series", "type": "nominal", "scale": {"domain": ["U", "As", "SO4"], "range": ["#3d3d3d", "#f0393b", "#2a6fc9"]}}
          }
        },
        {
          "data": {"name": "gluPts"},
          "transform": [{"filter": "datum.t > 50 && isValid(datum.lo)"}],
          "mark": {"type": "errorbar", "ticks": {"size": 7}, "thickness": 1, "opacity": 0.5},
          "encoding": {
            "x": {"field": "t", "type": "quantitative", "axis": null},
            "y": {"field": "lo", "type": "quantitative", "axis": null},
            "y2": {"field": "hi"},
            "color": {"field": "series", "type": "nominal"}
          }
        },
        {
          "data": {"name": "gluPts"},
          "transform": [{"filter": "datum.t > 50"}],
          "mark": {"type": "point", "filled": true, "size": 70, "opacity": 1, "strokeWidth": 0},
          "encoding": {
            "x": {"field": "t", "type": "quantitative", "axis": {"orient": "top", "title": null, "ticks": false, "labels": false}},
            "y": {"field": "value", "type": "quantitative", "axis": null},
            "color": {"field": "series", "type": "nominal",
              "legend": {"title": "Gluconic acid microcosm", "orient": "none", "legendX": 53, "legendY": 168,
                "labelExpr": "datum.value === 'U' ? 'U (µg/L)' : datum.value === 'As' ? 'As (µg/L)' : 'SO₄²⁻ (mg/L)'"}},
            "stroke": {"field": "series", "type": "nominal", "scale": {"domain": ["U", "As", "SO4"], "range": ["#3d3d3d", "#f0393b", "#2a6fc9"]}},
            "shape": {"field": "series", "type": "nominal",
              "scale": {"domain": ["U", "As", "SO4"], "range": ["M-5.25,0H5.25M-1,-1H1V1H-1Z", "M-5.25,0H5.25M1.05,0A1.05 1.05 0 1 1 -1.05,0A1.05 1.05 0 1 1 1.05,0Z", "M-5.25,0H5.25M0,-1.2L1.25,0.95H-1.25Z"]}}
          }
        }
      ]
    }
  ]
}
